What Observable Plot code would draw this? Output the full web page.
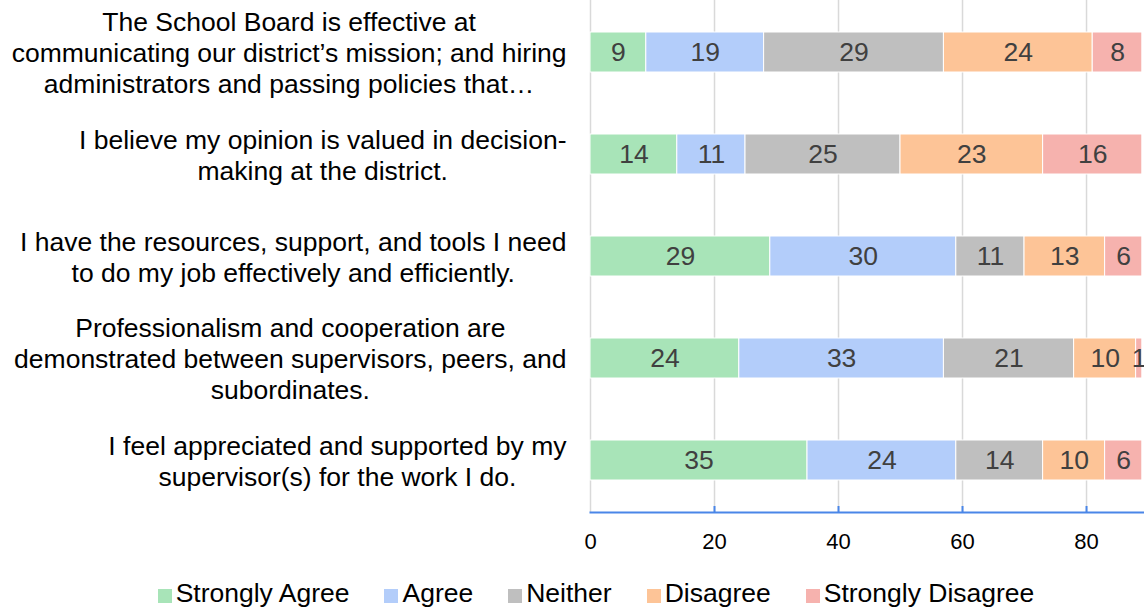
<!DOCTYPE html>
<html>
<head>
<meta charset="utf-8">
<script src="https://cdn.jsdelivr.net/npm/d3@7"></script>
<script src="https://cdn.jsdelivr.net/npm/@observablehq/plot@0.6"></script>
<style>
  html, body { margin: 0; padding: 0; background: #fff; }
  body { width: 1144px; height: 610px; overflow: hidden; font-family: "Liberation Sans", Arial, sans-serif; }
  #legend { display: flex; justify-content: center; align-items: center; gap: 35px; height: 50px; font-size: 26.5px; color: #000; padding-left: 48px; margin-top: 8px; }
  #legend .item { display: flex; align-items: center; }
  #legend .sw { width: 14px; height: 14px; margin-right: 4px; margin-top: 5px; }
</style>
</head>
<body>
<div id="chart"></div>
<div id="legend"></div>
<script>
const questions = [
  "The School Board is effective at\ncommunicating our district\u2019s mission; and hiring\nadministrators and passing policies that\u2026",
  "I believe my opinion is valued in decision-\nmaking at the district.",
  "I have the resources, support, and tools I need\nto do my job effectively and efficiently.",
  "Professionalism and cooperation are\ndemonstrated between supervisors, peers, and\nsubordinates.",
  "I feel appreciated and supported by my\nsupervisor(s) for the work I do."
];
const categories = ["Strongly Agree", "Agree", "Neither", "Disagree", "Strongly Disagree"];
const colors = ["#a8e4b8", "#b3cdfa", "#bfbfbf", "#fdc497", "#f6b2ae"];
const stronglyAgree = [9, 14, 29, 24, 35];
const agree = [19, 11, 30, 33, 24];
const neither = [29, 25, 11, 21, 14];
const disagree = [24, 23, 13, 10, 10];
const stronglyDisagree = [8, 16, 6, 1, 6];
const xTicks = [0, 20, 40, 60, 80];

const series = [stronglyAgree, agree, neither, disagree, stronglyDisagree];
const rows = [];
questions.forEach((q, i) => {
  categories.forEach((c, j) => rows.push({q, cat: c, value: series[j][i]}));
});

const labelFont = 26.5;
// measure label widths to center each wrapped block against the right edge
const ctx = document.createElement("canvas").getContext("2d");
ctx.font = labelFont + "px 'Liberation Sans'";
const labelWidth = q => Math.max(...q.split("\n").map(s => ctx.measureText(s).width));

const marginLeft = 590;
const labelRightGap = 24;

const labelMarks = questions.map(q => Plot.text([q], {
  x: () => 0, y: d => d, text: d => d,
  textAnchor: "middle", lineAnchor: "middle",
  dx: -labelRightGap - labelWidth(q) / 2,
  lineHeight: 1.17, fontSize: labelFont, fill: "#000"
}));

const plot = Plot.plot({
  width: 1144,
  height: 560,
  marginLeft,
  marginRight: 0,
  marginTop: 0,
  marginBottom: 48,
  style: {fontFamily: "'Liberation Sans', Arial, sans-serif", background: "#fff", overflow: "visible"},
  x: {domain: [0, 89.35], ticks: xTicks, axis: null},
  y: {domain: questions, paddingInner: 0.61, paddingOuter: 0.305, axis: null},
  color: {domain: categories, range: colors},
  marks: [
    Plot.ruleX(xTicks, {stroke: "#d9d9d9", strokeWidth: 1.5}),
    Plot.barX(rows, Plot.stackX({x: "value", y: "q", fill: "cat", order: categories, stroke: "#fff", strokeWidth: 1})),
    Plot.text(rows, Plot.stackX({x: "value", y: "q", z: "cat", text: "value", order: categories, fill: "#404040", fontSize: labelFont})),
    Plot.frame({anchor: "bottom", stroke: "#4a86e8", strokeWidth: 2}),
    Plot.ruleX(xTicks.slice(1), {stroke: "#4a86e8", strokeWidth: 2, insetTop: 506}),
    Plot.text(xTicks, {x: d => d, frameAnchor: "bottom", dy: 29, text: d => String(d), fontSize: 22, fill: "#000", lineAnchor: "middle"}),
    ...labelMarks
  ]
});
document.getElementById("chart").appendChild(plot);

const legend = document.getElementById("legend");
categories.forEach((c, i) => {
  const item = document.createElement("div");
  item.className = "item";
  const sw = document.createElement("span");
  sw.className = "sw";
  sw.style.background = colors[i];
  const t = document.createElement("span");
  t.textContent = c;
  item.appendChild(sw);
  item.appendChild(t);
  legend.appendChild(item);
});
</script>
</body>
</html>
